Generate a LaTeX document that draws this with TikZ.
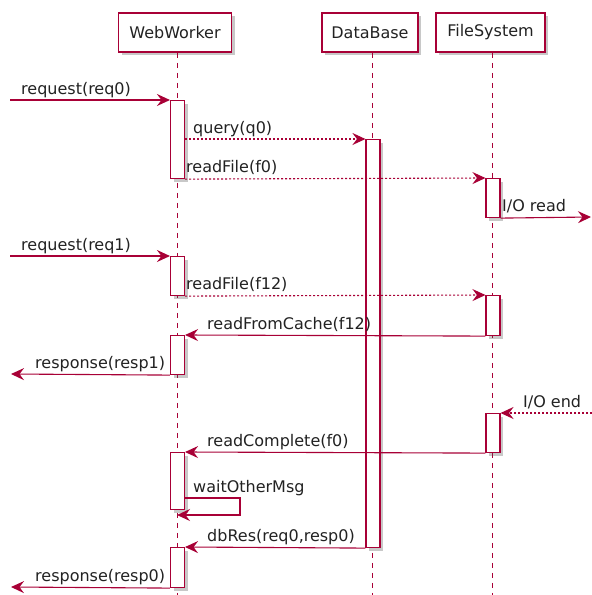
\documentclass[tikz,border=0pt]{standalone}
\usepackage{fontspec}
\setmainfont{DejaVu Sans}
\usetikzlibrary{arrows.meta,shadows}
\definecolor{pumlred}{HTML}{A80036}
\definecolor{txt}{HTML}{222222}
\begin{document}
\begin{tikzpicture}[x=1pt,y=-1pt,
  font=\fontsize{16}{19}\selectfont,
  shad/.style={drop shadow={shadow xshift=3pt,shadow yshift=-3pt,opacity=0.3,fill=black!70}},
  part/.style={draw=pumlred, line width=1.5pt, fill=white, minimum height=39pt, inner xsep=0pt, text=txt, shad},
  act/.style={draw=pumlred, line width=1.1pt, fill=white, minimum width=14pt, inner sep=0pt, anchor=north, shad},
  life/.style={draw=pumlred, line width=0.9pt, dash pattern=on 5pt off 5pt},
  msg/.style={draw=pumlred, line width=1.1pt, -{Stealth[length=13pt,width=12pt,inset=4.5pt]}},
  reply/.style={msg, dash pattern=on 2pt off 2pt},
  lbl/.style={anchor=base west, inner sep=0pt, text=txt}
]
\useasboundingbox[fill=white] (0,0) rectangle (592,595);

% participants
\node[part, minimum width=113pt] (ww) at (175,32.5) {WebWorker};
\node[part, minimum width=96pt] (db) at (370,32.5) {DataBase};
\node[part, minimum width=109pt] (fs) at (490.5,32.5) {FileSystem};

% lifelines
\coordinate (wwend) at (177,595);
\coordinate (dbend) at (372,595);
\coordinate (fsend) at (492,595);
\draw[life] (ww.south -| wwend) -- (wwend);
\draw[life] (db.south -| dbend) -- (dbend);
\draw[life] (fs.south -| fsend) -- (fsend);

% activations
\node[act, minimum height=408pt] (d1) at (373,139) {};
\node[act, minimum height=78pt] (w1) at (177.5,100) {};
\node[act, minimum height=39pt] (w2) at (177.5,256) {};
\node[act, minimum height=39pt] (w3) at (177.5,335) {};
\node[act, minimum height=57pt] (w4) at (177.5,452) {};
\node[act, minimum height=40pt] (w5) at (177.5,547) {};
\node[act, minimum height=39pt] (f1) at (493,178) {};
\node[act, minimum height=40pt] (f2) at (493,295) {};
\node[act, minimum height=39pt] (f3) at (493,413) {};

% free ends
\coordinate (in0) at (10,100);
\coordinate (in1) at (10,256);
\coordinate (out1) at (11,374);
\coordinate (out2) at (11,587);
\coordinate (ioout) at (591,217);
\coordinate (ioin) at (592,413);
\coordinate (s0) at (184.5,498);
\coordinate (s1) at (240,498);
\coordinate (s2) at (240,515);
\coordinate (s3) at (177,515);

% messages
\draw[msg] (in0) -- (w1.north west);
\draw[reply] (w1.east |- d1.north) -- (d1.north west);
\draw[reply] (w1.south east) -- (f1.north west);
\draw[msg] (f1.south east) -- (ioout);
\draw[msg] (in1) -- (w2.north west);
\draw[reply] (w2.south east) -- (f2.north west);
\draw[msg] (f2.south west) -- (w3.north east);
\draw[msg] (w3.south west) -- (out1);
\draw[reply] (ioin) -- (f3.north east);
\draw[msg] (f3.south west) -- (w4.north east);
\draw[msg] (s0) -- (s1) -- (s2) -- (s3);
\draw[msg] (d1.south west) -- (w5.north east);
\draw[msg] (w5.south west) -- (out2);

% labels
\node[lbl] (t1) at (21,94) {request(req0)};
\node[lbl] (t2) at (193,133) {query(q0)};
\node[lbl] (t3) at (186,172) {readFile(f0)};
\node[lbl] (t4) at (502,211) {I/O read};
\node[lbl] (t5) at (21,250) {request(req1)};
\node[lbl] (t6) at (186,289) {readFile(f12)};
\node[lbl] (t7) at (207,329) {readFromCache(f12)};
\node[lbl] (t8) at (35,368) {response(resp1)};
\node[lbl] (t9) at (523,407) {I/O end};
\node[lbl] (t10) at (207,446) {readComplete(f0)};
\node[lbl] (t11) at (193,492) {waitOtherMsg};
\node[lbl] (t12) at (207,541) {dbRes(req0,resp0)};
\node[lbl] (t13) at (35,581) {response(resp0)};
\end{tikzpicture}
\end{document}
